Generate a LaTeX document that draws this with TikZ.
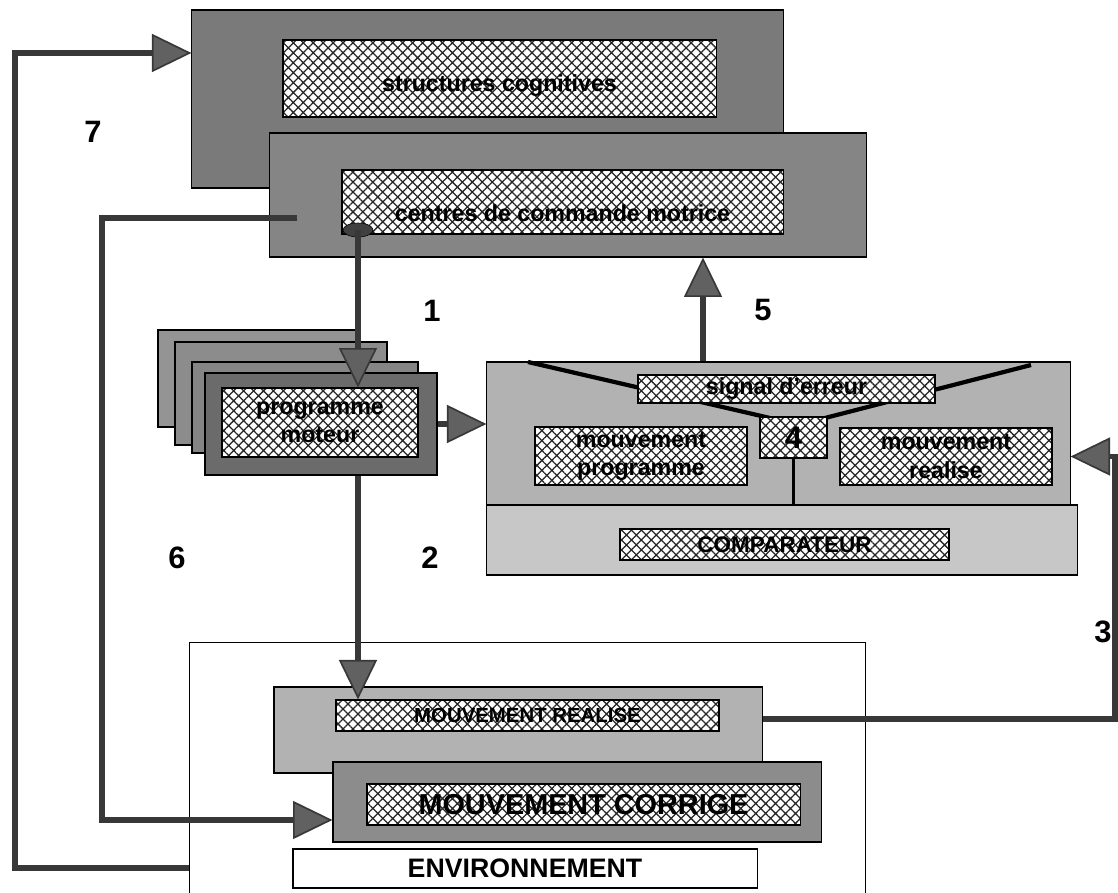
\documentclass[tikz,border=0pt]{standalone}
\usepackage{fontspec}
\setmainfont{Liberation Sans}
\usetikzlibrary{arrows.meta,patterns.meta,shapes.geometric}

\begin{document}
\begin{tikzpicture}[x=0.025cm,y=-0.025cm,
    box/.style={draw=black,line width=0.8pt,inner sep=0pt},
    hatch/.style={box,preaction={fill=white},pattern={Hatch[angle=45,distance=5pt,line width=0.9pt]},pattern color=black!85,font=\bfseries\fontsize{16.5}{20}\selectfont,align=center},
    num/.style={font=\bfseries\fontsize{22}{24}\selectfont},
    vline/.style={draw=black,line width=3pt},
    conn/.style={draw=black!78,line width=3.6pt,-{Triangle[length=28pt,width=27pt,fill=black!62,line width=1.2pt]}}]
  \useasboundingbox (0,0) rectangle (1118,893);
  \clip (0,0) rectangle (1118,893);

  % environnement
  \node[box,fill=white,line width=0.6pt,minimum width=16.875cm,minimum height=6.45cm] (env) at (527.5,771) {};
  \node[box,fill=black!30,minimum width=12.2cm,minimum height=2.15cm] (MRbox) at (518,730) {};
  \node[hatch,minimum width=9.575cm,minimum height=0.775cm,font=\bfseries\fontsize{14.5}{16}\selectfont] (MRin) at (527.5,715.5) {MOUVEMENT REALISE};
  \node[box,fill=black!45,minimum width=12.2cm,minimum height=2cm] (MCbox) at (577,802) {};
  \node[hatch,minimum width=10.825cm,minimum height=1.025cm,font=\bfseries\fontsize{20.5}{22}\selectfont] (MCin) at (583.5,804.5) {MOUVEMENT CORRIGE};
  \node[box,fill=white,minimum width=11.6cm,minimum height=0.975cm,font=\bfseries\fontsize{19}{21}\selectfont] (envlbl) at (525,868.5) {ENVIRONNEMENT};

  % structures cognitives / commande motrice
  \node[box,fill=black!52,minimum width=14.775cm,minimum height=4.45cm] (Abox) at (487.5,99) {};
  \node[hatch,minimum width=10.825cm,minimum height=1.925cm,text height=20pt,text depth=2pt] (Ain) at (499.5,78.5) {structures cognitives};
  \node[box,fill=black!48,minimum width=14.9cm,minimum height=3.1cm] (Bbox) at (568,195) {};
  \node[hatch,minimum width=11.025cm,minimum height=1.6cm,text height=30pt,text depth=2pt] (Bin) at (562.5,202) {centres de commande motrice};

  % programme moteur
  \node[box,fill=black!42,minimum width=5.05cm,minimum height=2.425cm] (pm1) at (259,378.5) {};
  \node[box,fill=black!45,minimum width=5.3cm,minimum height=2.575cm] (pm2) at (281,393.5) {};
  \node[box,fill=black!48,minimum width=5.65cm,minimum height=2.275cm] (pm3) at (305,407.5) {};
  \node[box,fill=black!58,minimum width=5.8cm,minimum height=2.55cm] (pm) at (321,424) {};
  \node[hatch,minimum width=4.9cm,minimum height=1.725cm] (pmin) at (320,422.5) {programme\\moteur};

  % comparateur
  \node[box,fill=black!22,minimum width=14.75cm,minimum height=1.75cm] (cmplow) at (782,540) {};
  \node[box,fill=black!30,minimum width=14.575cm,minimum height=3.575cm] (cmp) at (778.5,433.5) {};
  \coordinate (vl) at (528,362);
  \coordinate (vlend) at (770,418);
  \coordinate (vr) at (1031,365);
  \coordinate (vrend) at (825,418);
  \draw[vline] (vl) -- (vlend);
  \draw[vline] (vrend) -- (vr);
  \node[hatch,minimum width=7.425cm,minimum height=0.7cm] (signal) at (786.5,389) {signal d'erreur};
  \node[hatch,minimum width=1.675cm,minimum height=1.025cm,font=\bfseries\fontsize{22}{24}\selectfont] (four) at (793.5,437.5) {4};
  \node[hatch,minimum width=5.3cm,minimum height=1.45cm] (mp) at (641,456) {mouvement\\programme};
  \node[hatch,minimum width=5.3cm,minimum height=1.425cm] (mr) at (946,456.5) {mouvement\\realise};
  \node[hatch,minimum width=8.225cm,minimum height=0.775cm,font=\bfseries\fontsize{16}{18}\selectfont] (comp) at (784.5,544.5) {COMPARATEUR};
  \draw[line width=1.5pt] (four.south) -- (four.south |- cmplow.north);

  % fleches
  \node[ellipse,draw=black,fill=black!75,minimum width=0.75cm,minimum height=0.35cm,inner sep=0pt] (blob) at (358,230) {};
  \draw[conn] (blob.center) -- (blob.center |- pmin.north);
  \draw[conn] (blob.center |- pm.south) -- (blob.center |- MRin.north);
  \draw[conn] (pm.east) -- (pm.east -| cmp.west);
  \coordinate (c5) at (703,0);
  \draw[conn] (c5 |- cmp.north) -- (c5 |- Bbox.south);
  \coordinate (c3) at (1115,719);
  \draw[conn] (c3 -| MRbox.east) -- (c3) |- (cmp.east |- mr.east);
  \coordinate (s6) at (297,218);
  \coordinate (c6) at (102,218);
  \draw[conn] (s6) -- (c6) |- ([yshift=-0.45cm]MCbox.west);
  \coordinate (c7) at (15,868);
  \draw[conn] (c7 -| env.west) -- (c7) |- ([yshift=1.15cm]Abox.west);

  % numeros
  \node[num] (n1) at (432,311) {1};
  \node[num] (n5) at (763,310) {5};
  \node[num] (n2) at (430,558) {2};
  \node[num] (n6) at (177,558) {6};
  \node[num] (n3) at (1103,632) {3};
  \node[num] (n7) at (93,132) {7};
\end{tikzpicture}
\end{document}
